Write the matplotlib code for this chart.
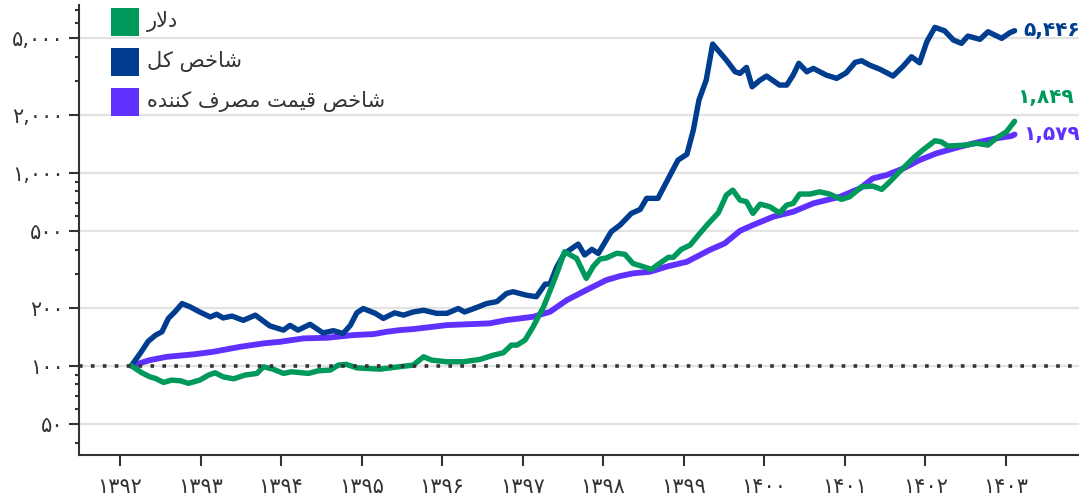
import matplotlib

matplotlib.use("Agg")
import matplotlib.pyplot as plt
from matplotlib.patches import Rectangle
from matplotlib.ticker import FixedLocator, LogLocator, NullFormatter

# --- data (index, start = 100) --------------------------------------------
dollar_x = [1392.14, 1392.27, 1392.37, 1392.44, 1392.54, 1392.64, 1392.75, 1392.85,
            1392.99, 1393.10, 1393.18, 1393.28, 1393.41, 1393.55, 1393.70, 1393.78,
            1393.90, 1394.03, 1394.13, 1394.34, 1394.46, 1394.61, 1394.71, 1394.81,
            1394.94, 1395.06, 1395.23, 1395.46, 1395.64, 1395.77, 1395.87, 1396.06,
            1396.26, 1396.47, 1396.64, 1396.76, 1396.86, 1396.93, 1397.03, 1397.13,
            1397.26, 1397.36, 1397.44, 1397.52, 1397.67, 1397.79, 1397.88, 1397.96,
            1398.04, 1398.17, 1398.27, 1398.37, 1398.50, 1398.60, 1398.70, 1398.81,
            1398.87, 1398.97, 1399.08, 1399.20, 1399.30, 1399.43, 1399.53, 1399.61,
            1399.70, 1399.78, 1399.86, 1399.95, 1400.07, 1400.19, 1400.28, 1400.36,
            1400.44, 1400.57, 1400.69, 1400.81, 1400.96, 1401.06, 1401.21, 1401.35,
            1401.46, 1401.56, 1401.68, 1401.87, 1401.97, 1402.12, 1402.20, 1402.28,
            1402.51, 1402.64, 1402.78, 1402.88, 1403.01, 1403.11]
dollar = [100, 92.0, 87.7, 86.0, 82.0, 84.3, 83.6, 81.1,
          84.3, 89.5, 92.0, 87.7, 85.6, 89.5, 91.3, 98.8,
          96.1, 91.3, 93.1, 91.3, 94.2, 95.0, 100.8, 101.7,
          97.6, 96.9, 96.1, 98.8, 100.8, 111.3, 107.0, 104.9,
          104.9, 107.9, 113.6, 116.8, 128.0, 128.0, 135.9, 159.2,
          202.2, 256.7, 313.3, 389.7, 360.2, 283.8, 328.6, 357.1,
          362, 383, 378, 339, 326, 316, 339, 364.5,
          364.5, 401, 422, 485, 542, 620, 766, 813,
          722, 708, 616, 688, 667, 620, 680, 694,
          776, 776, 797, 776, 728, 751, 846, 853,
          820, 898, 1012, 1210, 1311, 1465, 1447, 1375,
          1392, 1420, 1392, 1508, 1631, 1849]

total_x = [1392.14, 1392.25, 1392.35, 1392.44, 1392.52, 1392.60, 1392.68, 1392.77,
           1392.87, 1392.99, 1393.12, 1393.20, 1393.28, 1393.39, 1393.53, 1393.68,
           1393.86, 1394.03, 1394.11, 1394.21, 1394.36, 1394.52, 1394.65, 1394.77,
           1394.86, 1394.94, 1395.02, 1395.17, 1395.27, 1395.41, 1395.52, 1395.64,
           1395.77, 1395.93, 1396.06, 1396.20, 1396.28, 1396.45, 1396.55, 1396.68,
           1396.80, 1396.88, 1397.05, 1397.17, 1397.28, 1397.34, 1397.42, 1397.52,
           1397.69, 1397.77, 1397.86, 1397.94, 1398.10, 1398.21, 1398.35, 1398.46,
           1398.54, 1398.68, 1398.81, 1398.93, 1399.04, 1399.12, 1399.19, 1399.28,
           1399.36, 1399.53, 1399.64, 1399.70, 1399.78, 1399.85, 1399.95, 1400.03,
           1400.19, 1400.28, 1400.36, 1400.43, 1400.53, 1400.61, 1400.77, 1400.90,
           1401.02, 1401.13, 1401.21, 1401.31, 1401.44, 1401.60, 1401.72, 1401.83,
           1401.93, 1402.02, 1402.12, 1402.24, 1402.35, 1402.45, 1402.53, 1402.68,
           1402.78, 1402.95, 1403.05, 1403.11]
total = [100, 116, 134, 144, 150, 176, 190, 210,
         202, 190, 179, 185, 177, 181, 172, 183,
         161, 153, 162, 153, 164, 148, 152, 147,
         162, 188, 198, 187, 176, 188, 183, 190,
         194, 187, 187, 198, 190, 202, 210, 215,
         237, 242, 232, 228, 265, 265, 323, 382,
         427, 375, 401, 382, 495, 536, 616, 646,
         737, 737, 935, 1164, 1246, 1665, 2381, 3022,
         4644, 3837, 3336, 3273, 3516, 2790, 3022, 3170,
         2847, 2847, 3208, 3689, 3336, 3474, 3208, 3084,
         3297, 3733, 3805, 3614, 3434, 3170, 3542, 3990,
         3715, 4774, 5667, 5442, 4871, 4683, 5108, 4912,
         5377, 4971, 5313, 5446]

cpi_x = [1392.14, 1392.37, 1392.58, 1392.91, 1393.16, 1393.49, 1393.78, 1393.99,
         1394.28, 1394.57, 1394.90, 1395.15, 1395.31, 1395.48, 1395.64, 1396.06,
         1396.59, 1396.80, 1397.13, 1397.34, 1397.55, 1397.79, 1398.04, 1398.21,
         1398.37, 1398.58, 1398.79, 1399.04, 1399.32, 1399.51, 1399.70, 1399.86,
         1400.11, 1400.36, 1400.61, 1400.94, 1401.19, 1401.35, 1401.52, 1401.73,
         1401.93, 1402.14, 1402.43, 1402.68, 1402.88, 1403.07, 1403.11]
cpi = [100, 107.0, 111.3, 114.6, 118.2, 125.4, 130.6, 133.2,
       138.7, 139.7, 144.3, 146.0, 150.0, 153.1, 154.9, 162.5,
       165.9, 172.5, 179.4, 190.5, 219.0, 246.7, 278.0, 291.6,
       301.2, 306.9, 326.6, 345.8, 397.7, 430.7, 500.6, 535.8,
       591.6, 628.0, 694.2, 750.9, 830.3, 935.4, 972.9, 1054,
       1164, 1261, 1364, 1447, 1508, 1550, 1579]

years = list(range(1392, 1404))
y_major = [50, 100, 200, 500, 1000, 2000, 5000]
labels = ["دلار", "شاخص کل", "شاخص قیمت مصرف کننده"]

GREEN = "#00995C"
BLUE = "#003D8F"
PURPLE = "#6030FF"
INK = "#333333"

# matplotlib has no Arabic shaping: pick presentation forms by hand and reverse.
FORMS = {  # isolated, final, initial, medial
    "ا": ("\uFE8D", "\uFE8E", None, None),
    "د": ("\uFEA9", "\uFEAA", None, None),
    "ر": ("\uFEAD", "\uFEAE", None, None),
    "ل": ("\uFEDD", "\uFEDE", "\uFEDF", "\uFEE0"),
    "ش": ("\uFEB5", "\uFEB6", "\uFEB7", "\uFEB8"),
    "خ": ("\uFEA5", "\uFEA6", "\uFEA7", "\uFEA8"),
    "ص": ("\uFEB9", "\uFEBA", "\uFEBB", "\uFEBC"),
    "ق": ("\uFED5", "\uFED6", "\uFED7", "\uFED8"),
    "م": ("\uFEE1", "\uFEE2", "\uFEE3", "\uFEE4"),
    "ت": ("\uFE95", "\uFE96", "\uFE97", "\uFE98"),
    "ف": ("\uFED1", "\uFED2", "\uFED3", "\uFED4"),
    "ن": ("\uFEE5", "\uFEE6", "\uFEE7", "\uFEE8"),
    "ه": ("\uFEE9", "\uFEEA", "\uFEEB", "\uFEEC"),
    "\u06A9": ("\uFB8E", "\uFB8F", "\uFB90", "\uFB91"),
    "\u0643": ("\uFED9", "\uFEDA", "\uFEDB", "\uFEDC"),
    "\u06CC": ("\uFBFC", "\uFBFD", "\uFBFE", "\uFBFF"),
    "\u064A": ("\uFEF1", "\uFEF2", "\uFEF3", "\uFEF4"),
}


def shape(text):
    out = []
    i = 0
    while i < len(text):
        c = text[i]
        if c not in FORMS:
            out.append(c)
            i += 1
            continue
        prev = text[i - 1] if i > 0 else None
        joins_prev = prev in FORMS and FORMS[prev][2] is not None
        if c == "ل" and i + 1 < len(text) and text[i + 1] == "ا":
            out.append("\uFEFC" if joins_prev else "\uFEFB")
            i += 2
            continue
        nxt = text[i + 1] if i + 1 < len(text) else None
        iso, fin, ini, med = FORMS[c]
        joins_next = ini is not None and nxt in FORMS
        if joins_prev and joins_next:
            out.append(med)
        elif joins_prev:
            out.append(fin)
        elif joins_next:
            out.append(ini)
        else:
            out.append(iso)
        i += 1
    return "".join(reversed(out))


FA = str.maketrans("0123456789", "۰۱۲۳۴۵۶۷۸۹")


def fa_num(v):
    return f"{v:,}".translate(FA)


fig = plt.figure(figsize=(10.79, 5.0), dpi=100, facecolor="white")
ax = fig.add_axes([79 / 1079, 45 / 500, 1 - 79 / 1079, 450 / 500])
ax.set_yscale("log")
ax.set_ylim(34.5, 7400)
ax.set_xlim(1391.49, 1403.91)

for v in y_major:
    ax.axhline(v, color="#E3E3E3", lw=1.6, zorder=0)

ax.plot(cpi_x, cpi, color=PURPLE, lw=4.2, solid_capstyle="round",
        solid_joinstyle="round", zorder=3)
ax.plot(total_x, total, color=BLUE, lw=3.9, solid_capstyle="round",
        solid_joinstyle="round", zorder=4)
ax.plot(dollar_x, dollar, color=GREEN, lw=3.9, solid_capstyle="round",
        solid_joinstyle="round", zorder=5)
ax.axhline(100, color=INK, lw=2.6, ls=(0, (1, 2.3)), zorder=6)

# end-of-line value labels
ax.annotate(fa_num(total[-1]), (total_x[-1], total[-1]), xytext=(6, 0),
            textcoords="offset points", ha="left", va="center",
            color=BLUE, fontsize=14.5, fontweight="bold")
ax.annotate(fa_num(dollar[-1]), (dollar_x[-1], dollar[-1]), xytext=(2, 17),
            textcoords="offset points", ha="left", va="center",
            color=GREEN, fontsize=14.5, fontweight="bold")
ax.annotate(fa_num(cpi[-1]), (cpi_x[-1], cpi[-1]), xytext=(6, 0),
            textcoords="offset points", ha="left", va="center",
            color=PURPLE, fontsize=14.5, fontweight="bold")

# axes styling
for side in ("top", "right"):
    ax.spines[side].set_visible(False)
for side in ("left", "bottom"):
    ax.spines[side].set_color(INK)
    ax.spines[side].set_linewidth(1.5)

ax.yaxis.set_major_locator(FixedLocator(y_major))
ax.set_yticklabels([fa_num(v) for v in y_major])
ax.yaxis.set_minor_locator(LogLocator(base=10, subs=range(1, 10)))
ax.yaxis.set_minor_formatter(NullFormatter())
ax.set_xticks(years)
ax.set_xticklabels([str(y).translate(FA) for y in years])
ax.tick_params(axis="y", which="major", length=7, width=1.5, color=INK,
               labelsize=15, labelcolor=INK, pad=4)
ax.tick_params(axis="y", which="minor", length=3, width=1.5, color=INK)
ax.tick_params(axis="x", which="major", length=8, width=1.5, color=INK,
               labelsize=15, labelcolor=INK, pad=8)
ax.tick_params(axis="x", which="minor", length=0)

# legend: coloured squares with Persian labels
for i, (lab, col) in enumerate(zip(labels, [GREEN, BLUE, PURPLE])):
    top = 8 + 40 * i
    fig.add_artist(Rectangle((111 / 1079, 1 - (top + 28) / 500), 28 / 1079, 28 / 500,
                             transform=fig.transFigure, color=col, lw=0))
    fig.text(147 / 1079, 1 - (top + 14) / 500, shape(lab), ha="left", va="center",
             fontsize=15, color=INK)

fig.savefig("out.png", dpi=100)
